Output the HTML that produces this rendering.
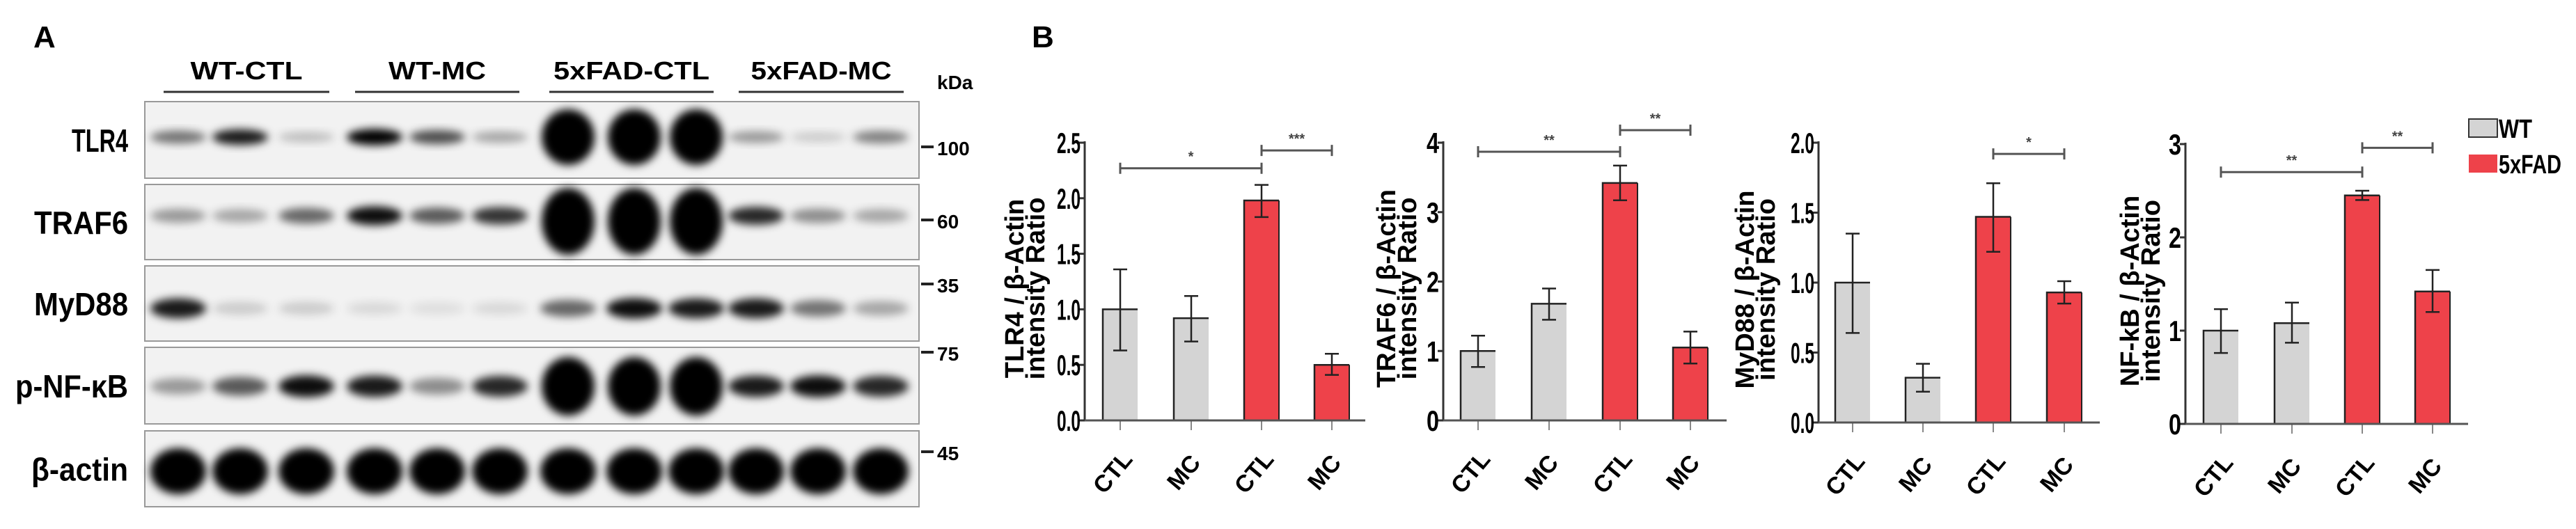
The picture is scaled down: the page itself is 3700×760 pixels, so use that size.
<!DOCTYPE html>
<html><head><meta charset="utf-8"><style>
html,body{margin:0;padding:0;background:#fff;width:3700px;height:760px;overflow:hidden}
svg{display:block}
text{font-family:"Liberation Sans",sans-serif;font-weight:bold}
</style></head><body>
<svg id="fig" width="3700" height="760" viewBox="0 0 3700 760" xmlns="http://www.w3.org/2000/svg">
<defs>
<filter id="blur" x="-50%" y="-50%" width="200%" height="200%"><feGaussianBlur stdDeviation="6"/></filter>
</defs>
<text x="48" y="68" font-size="44">A</text>
<text x="1482" y="68" font-size="44">B</text>
<g id="blot"></g>
<g id="charts"></g>
<g>
<rect x="3546" y="171" width="41" height="26" fill="#d4d4d4" stroke="#333" stroke-width="2"/>
<text x="3589" y="198" font-size="38" textLength="48" lengthAdjust="spacingAndGlyphs" font-weight="normal">WT</text>
<rect x="3546" y="222" width="41" height="26" fill="#ee424a"/>
<text x="3589" y="249" font-size="38" textLength="90" lengthAdjust="spacingAndGlyphs" font-weight="normal">5xFAD</text>
</g>
</svg>
<script>
const NS="http://www.w3.org/2000/svg";
function mk(parent,tag,attrs,txt){const e=document.createElementNS(NS,tag);for(const k in attrs)e.setAttribute(k,attrs[k]);if(txt!==undefined)e.textContent=txt;parent.appendChild(e);return e;}

// ---------- Western blot data ----------
const groupNames=["WT-CTL","WT-MC","5xFAD-CTL","5xFAD-MC"];
const blotNames=["TLR4","TRAF6","MyD88","p-NF-κB","β-actin"];
const tlr4Int=[0.5,0.85,0.2,0.95,0.65,0.3,1,1,1,0.35,0.15,0.45];
const traf6Int=[0.35,0.3,0.55,0.9,0.6,0.75,1,1,1,0.8,0.4,0.3];
const myd88Int=[0.85,0.15,0.15,0.1,0.08,0.1,0.55,0.9,0.85,0.85,0.5,0.3];
const pnfInt=[0.35,0.6,0.9,0.85,0.4,0.8,1,1,1,0.85,0.9,0.8];
const actinInt=[1,1,1,1,1,1,1,1,1,1,1,1];
const kdaLabels=["100","60","35","75","45"];

const blot=document.getElementById('blot');
const laneX=[256,345,440,538,628,718,816,911,1000,1086,1175,1265];
const grpX=[[235,473],[510,746],[789,1025],[1061,1298]];
const grpW=[161,140,224,202];
groupNames.forEach((g,i)=>{
  const t=mk(blot,'text',{x:(grpX[i][0]+grpX[i][1])/2,y:114,'font-size':36,'text-anchor':'middle',textLength:grpW[i],lengthAdjust:'spacingAndGlyphs'},g);
  
  
  const l=mk(blot,'line',{x1:grpX[i][0],x2:grpX[i][1],y1:132,y2:132,stroke:'#333','stroke-width':3});
  
  
});
const kd=mk(blot,'text',{x:1346,y:128,'font-size':28},'kDa');


const panels=[[146,256],[265,373],[382,490],[499,609],[619,728]];
const bandY=[197,310,443,555,677];
const bandRy=[11,13,14,15,30];
const ints=[tlr4Int,traf6Int,myd88Int,pnfInt,actinInt];
const kdaY=[219,324,416,514,657];
const labW=[81,135,135,162,139];
panels.forEach((p,bi)=>{
  const g=mk(blot,'g',{});
  
  
  mk(g,'rect',{x:208,y:p[0],width:1112,height:p[1]-p[0],fill:'#f2f2f2',stroke:'#999','stroke-width':2});
  ints[bi].forEach((v,li)=>{
    const big=(bi<=1||bi==3)&&li>=6&&li<=8;
    const ry=big?(bi==0?40:bi==1?48:42):bandRy[bi]*(0.6+0.5*v);
    const rx=big?38:40;
    const cy=big&&bi==1?bandY[bi]+8:bandY[bi];
    const b=mk(g,'ellipse',{cx:laneX[li],cy:cy,rx:rx,ry:ry,fill:'#000','fill-opacity':Math.min(1,v*1.05),filter:'url(#blur)'});
    
    
  });
  const lab=mk(blot,'text',{x:184-labW[bi],y:(p[0]+p[1])/2+17,'font-size':46,textLength:labW[bi],lengthAdjust:'spacingAndGlyphs'},blotNames[bi]);
  
  
  mk(blot,'line',{x1:1323,x2:1341,y1:kdaY[bi]-8,y2:kdaY[bi]-8,stroke:'#222','stroke-width':4});
  const kt=mk(blot,'text',{x:1346,y:kdaY[bi]+4,'font-size':28},kdaLabels[bi]);
  
  
});

// ---------- Bar chart data ----------
const categories=["CTL","MC","CTL","MC"];
const groupOf=["WT","WT","5xFAD","5xFAD"];
const tlr4Vals=[1.0,0.92,1.98,0.5];
const tlr4Lo=[0.63,0.71,1.83,0.41];
const tlr4Hi=[1.36,1.12,2.12,0.6];
const tlr4Ticks=["0.0","0.5","1.0","1.5","2.0","2.5"];
const traf6Vals=[1.0,1.68,3.42,1.05];
const traf6Lo=[0.77,1.45,3.17,0.82];
const traf6Hi=[1.22,1.9,3.67,1.28];
const traf6Ticks=["0","1","2","3","4"];
const myd88Vals=[1.0,0.32,1.47,0.93];
const myd88Lo=[0.64,0.22,1.22,0.85];
const myd88Hi=[1.35,0.42,1.71,1.01];
const myd88Ticks=["0.0","0.5","1.0","1.5","2.0"];
const nfkbVals=[1.0,1.08,2.45,1.42];
const nfkbLo=[0.76,0.87,2.4,1.2];
const nfkbHi=[1.23,1.3,2.5,1.65];
const nfkbTicks=["0","1","2","3"];
const tlr4Sig=[[0,2,2.27,"*"],[2,3,2.43,"***"]];
const traf6Sig=[[0,2,3.87,"**"],[2,3,4.18,"**"]];
const myd88Sig=[[2,3,1.92,"*"]];
const nfkbSig=[[0,2,2.7,"**"],[2,3,2.96,"**"]];

const charts=[
 {name:'tlr4',ax:1558,axEnd:1961,bars:[1609,1711,1812,1913],max:2.5,vals:tlr4Vals,lo:tlr4Lo,hi:tlr4Hi,ticks:tlr4Ticks,sig:tlr4Sig,l1:"TLR4 / β-Actin",l2:"intensity Ratio",lx:1470,top:205,bot:604},
 {name:'traf6',ax:2073,axEnd:2480,bars:[2123,2225,2327,2428],max:4,vals:traf6Vals,lo:traf6Lo,hi:traf6Hi,ticks:traf6Ticks,sig:traf6Sig,l1:"TRAF6 / β-Actin",l2:"intensity Ratio",lx:2004,top:205,bot:604},
 {name:'myd88',ax:2612,axEnd:3016,bars:[2661,2762,2863,2965],max:2,vals:myd88Vals,lo:myd88Lo,hi:myd88Hi,ticks:myd88Ticks,sig:myd88Sig,l1:"MyD88 / β-Actin",l2:"intensity Ratio",lx:2519,top:205,bot:607},
 {name:'nfkb',ax:3139,axEnd:3545,bars:[3190,3292,3393,3494],max:3,vals:nfkbVals,lo:nfkbLo,hi:nfkbHi,ticks:nfkbTicks,sig:nfkbSig,l1:"NF-kB / β-Actin",l2:"intensity Ratio",lx:3072,top:207,bot:609}
];
const cg=document.getElementById('charts');
charts.forEach(c=>{
  const g=mk(cg,'g',{});
  
  
  const y=v=>c.bot-(v/c.max)*(c.bot-c.top);
  const cy=(c.top+c.bot)/2;
  const t1=mk(g,'text',{x:0,y:0,'font-size':38,'text-anchor':'middle',transform:`translate(${c.lx},${cy+10}) rotate(-90)`},c.l1);
  
  
  const t2=mk(g,'text',{x:0,y:0,'font-size':38,'text-anchor':'middle',transform:`translate(${c.lx+30},${cy+10}) rotate(-90)`},c.l2);
  
  
  c.vals.forEach((v,i)=>{
    const x=c.bars[i];
    const b=mk(g,'rect',{x:x-25,y:y(v),width:50,height:c.bot-y(v),fill:groupOf[i]=="WT"?'#d4d4d4':'#ee424a'});
    
    
    mk(g,'polyline',{points:`${x-25},${c.bot} ${x-25},${y(v)} ${x+25},${y(v)}`,fill:'none',stroke:'#222','stroke-width':2.5});
    if(groupOf[i]!="WT") mk(g,'line',{x1:x+25,x2:x+25,y1:y(v),y2:c.bot,stroke:'#222','stroke-width':2});
    const e=mk(g,'path',{d:`M${x},${y(c.lo[i])}V${y(c.hi[i])}M${x-10},${y(c.lo[i])}H${x+10}M${x-10},${y(c.hi[i])}H${x+10}`,stroke:'#222','stroke-width':2.5,fill:'none'});
    
    
    mk(g,'line',{x1:x,x2:x,y1:c.bot,y2:c.bot+14,stroke:'#888','stroke-width':2});
    const xl=mk(g,'text',{x:0,y:0,'font-size':34,'text-anchor':'middle',transform:`translate(${x-2},${c.bot+82}) rotate(-50)`},categories[i]);
    
    
  });
  mk(g,'line',{x1:c.ax,x2:c.ax,y1:c.top-2,y2:c.bot,stroke:'#333','stroke-width':3});
  mk(g,'line',{x1:c.ax-6,x2:c.axEnd,y1:c.bot,y2:c.bot,stroke:'#555','stroke-width':3});
  c.ticks.forEach((t,i)=>{
    const ty=y(c.max*i/(c.ticks.length-1));
    mk(g,'line',{x1:c.ax-8,x2:c.ax,y1:ty,y2:ty,stroke:'#333','stroke-width':3});
    const tl=mk(g,'text',{x:c.ax-6,y:ty+15,'font-size':42,'text-anchor':'end',textLength:t.length>1?34:18,lengthAdjust:'spacingAndGlyphs'},t);
    
    
  });
  c.sig.forEach(s=>{
    const x1=c.bars[s[0]],x2=c.bars[s[1]],sy=y(s[2]);
    const p=mk(g,'path',{d:`M${x1},${sy-8}V${sy+8}M${x1},${sy}H${x2}M${x2},${sy-8}V${sy+8}`,stroke:'#555','stroke-width':3,fill:'none'});
    
    
    const st=mk(g,'text',{x:(x1+x2)/2,y:sy-10,'font-size':20,'text-anchor':'middle',fill:'#444'},s[3]);
    
    
  });
});
</script>
</body></html>
